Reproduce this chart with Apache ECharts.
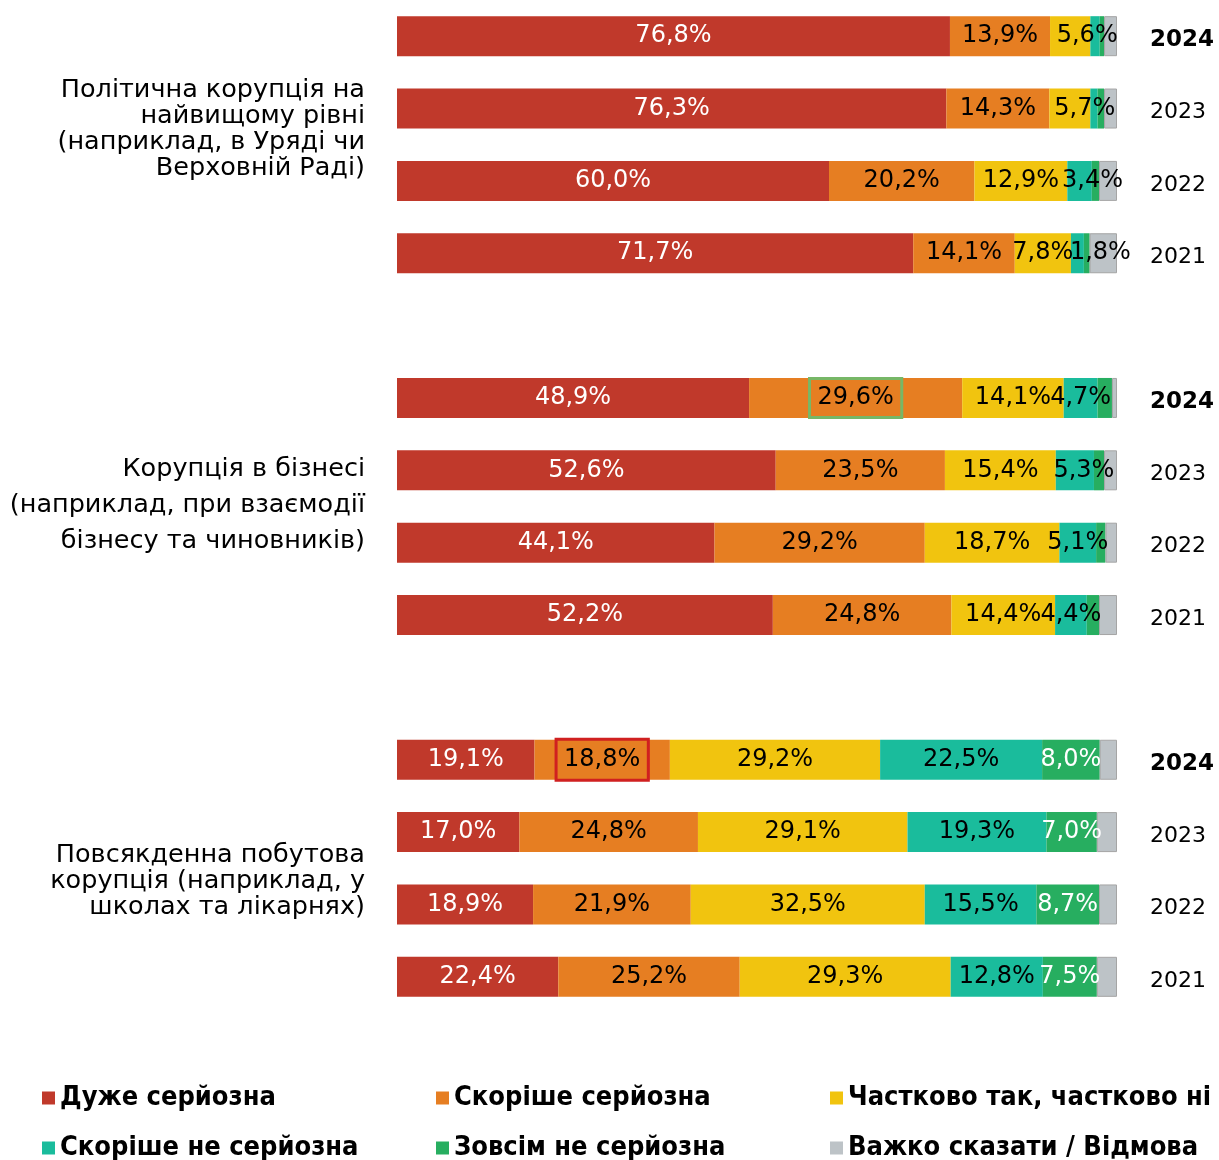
<!DOCTYPE html>
<html>
<head>
<meta charset="utf-8">
<script src="https://cdn.jsdelivr.net/npm/echarts@6/dist/echarts.min.js"></script>
<style>
  html, body { margin: 0; padding: 0; background: #fff; }
  #chart { width: 1219px; height: 1160px; }
</style>
</head>
<body>
<div id="chart"></div>
<script>
// three groups x four years, top to bottom: 2024, 2023, 2022, 2021
var years = ['2024', '2023', '2022', '2021'];
var groupNames = [
    'Політична корупція на\nнайвищому рівні\n(наприклад, в Уряді чи\nВерховній Раді)',
    'Корупція в бізнесі\n(наприклад, при взаємодії\nбізнесу та чиновників)',
    'Повсякденна побутова\nкорупція (наприклад, у\nшколах та лікарнях)'
];
var seriesNames = ['Дуже серйозна', 'Скоріше серйозна', 'Частково так, частково ні',
    'Скоріше не серйозна', 'Зовсім не серйозна', 'Важко сказати / Відмова'];

var verySerious    = [76.8, 76.3, 60.0, 71.7,  48.9, 52.6, 44.1, 52.2,  19.1, 17.0, 18.9, 22.4];
var ratherSerious  = [13.9, 14.3, 20.2, 14.1,  29.6, 23.5, 29.2, 24.8,  18.8, 24.8, 21.9, 25.2];
var partly         = [5.6, 5.7, 12.9, 7.8,     14.1, 15.4, 18.7, 14.4,  29.2, 29.1, 32.5, 29.3];
var ratherNot      = [1.3, 1.0, 3.4, 1.8,      4.7, 5.3, 5.1, 4.4,      22.5, 19.3, 15.5, 12.8];
var notAtAll       = [0.6, 0.9, 1.0, 0.8,      2.0, 1.4, 1.3, 1.7,      8.0, 7.0, 8.7, 7.5];
var hardToSay      = [1.8, 1.8, 2.5, 3.8,      0.7, 1.8, 1.6, 2.5,      2.4, 2.8, 2.5, 2.8];

var colors = ['#c0392b', '#e67e22', '#f1c40f', '#1abc9c', '#27ae60', '#bdc3c7'];
var labelColors = ['#fff', '#000', '#000', '#000', '#fff', '#000'];
var minLabel = [0, 0, 0, 1.5, 5, 1000];

// 14 slots: 4 bars, gap, 4 bars, gap, 4 bars
var cats = [];
function slots(arr) {
    var out = [];
    for (var g = 0; g < 3; g++) {
        for (var i = 0; i < 4; i++) out.push(arr[g * 4 + i]);
        if (g < 2) out.push('-');
    }
    return out;
}
for (var g = 0; g < 3; g++) {
    for (var i = 0; i < 4; i++) cats.push(years[i]);
    if (g < 2) cats.push('');
}

function fmt(v) {
    return v.toFixed(1).replace('.', ',') + '%';
}

// labels nudged sideways where the segment is too thin
var shifts = {
    '2_0': 17, '2_1': 15, '3_2': 13, '3_3': 23, '3_6': 9
};

var allData = [verySerious, ratherSerious, partly, ratherNot, notAtAll, hardToSay];
var series = allData.map(function (arr, k) {
    var data = slots(arr).map(function (v, idx) {
        var s = shifts[k + '_' + idx];
        if (s) return { value: v, label: { offset: [s, 0] } };
        return v;
    });
    if (k == 1) {
        // highlighted labels in 2024 rows
        data[5] = { value: data[5], label: { borderColor: '#77b767', borderWidth: 3, padding: [8, 8, 7, 8] } };
        data[10] = { value: data[10], label: { borderColor: '#d02020', borderWidth: 3, padding: [9, 8, 8, 8] } };
    }
    return {
        name: seriesNames[k],
        type: 'bar',
        stack: 'total',
        barWidth: 40,
        data: data,
        itemStyle: k == 5 ? { color: colors[k], borderColor: '#a5a5a5', borderWidth: 1 } : { color: colors[k] },
        label: {
            show: k < 5,
            position: 'inside',
            color: labelColors[k],
            fontFamily: 'DejaVu Sans',
            fontSize: 24,
            formatter: function (p) {
                return p.value >= minLabel[k] ? fmt(p.value) : '';
            }
        },
        emphasis: { disabled: true }
    };
});

var legendText = {
    fontFamily: '"Liberation Sans Narrow", "DejaVu Sans Condensed", sans-serif',
    fontWeight: 'bold',
    fontSize: 27,
    color: '#000',
    width: 376,
    lineHeight: 30
};

var groupFont = '25.5px "DejaVu Sans"';

var chart = echarts.init(document.getElementById('chart'));
chart.setOption({
    animation: false,
    grid: { left: 397, right: 102, top: 0, height: 1013 },
    xAxis: { type: 'value', min: 0, max: 100, show: false },
    yAxis: {
        type: 'category',
        inverse: true,
        position: 'right',
        data: cats,
        axisLine: { show: false },
        axisTick: { show: false },
        axisLabel: {
            margin: 33,
            align: 'left',
            fontFamily: 'DejaVu Sans',
            fontSize: 22,
            color: '#000',
            padding: [8, 0, 0, 0],
            formatter: function (v) {
                return v == '2024' ? '{b|' + v + '}' : v;
            },
            rich: { b: { fontFamily: 'DejaVu Sans', fontSize: 23, fontWeight: 'bold', color: '#000' } }
        }
    },
    legend: [
        {
            data: seriesNames.slice(0, 3),
            left: 42, top: 1083, width: 1400, padding: 0, itemGap: 0,
            itemWidth: 13, itemHeight: 13, icon: 'rect',
            itemStyle: { borderWidth: 0 },
            textStyle: legendText, selectedMode: false
        },
        {
            data: seriesNames.slice(3),
            left: 42, top: 1133, width: 1400, padding: 0, itemGap: 0,
            itemWidth: 13, itemHeight: 13, icon: 'rect',
            itemStyle: { borderWidth: 0 },
            textStyle: legendText, selectedMode: false
        }
    ],
    graphic: [
        {
            type: 'text', x: 365, y: 77,
            style: { text: groupNames[0], align: 'right', verticalAlign: 'top', font: groupFont, lineHeight: 26, fill: '#000' }
        },
        {
            type: 'text', x: 365, y: 451,
            style: { text: groupNames[1], align: 'right', verticalAlign: 'top', font: groupFont, lineHeight: 36, fill: '#000' }
        },
        {
            type: 'text', x: 365, y: 842,
            style: { text: groupNames[2], align: 'right', verticalAlign: 'top', font: groupFont, lineHeight: 26, fill: '#000' }
        }
    ],
    series: series
});
</script>
</body>
</html>
